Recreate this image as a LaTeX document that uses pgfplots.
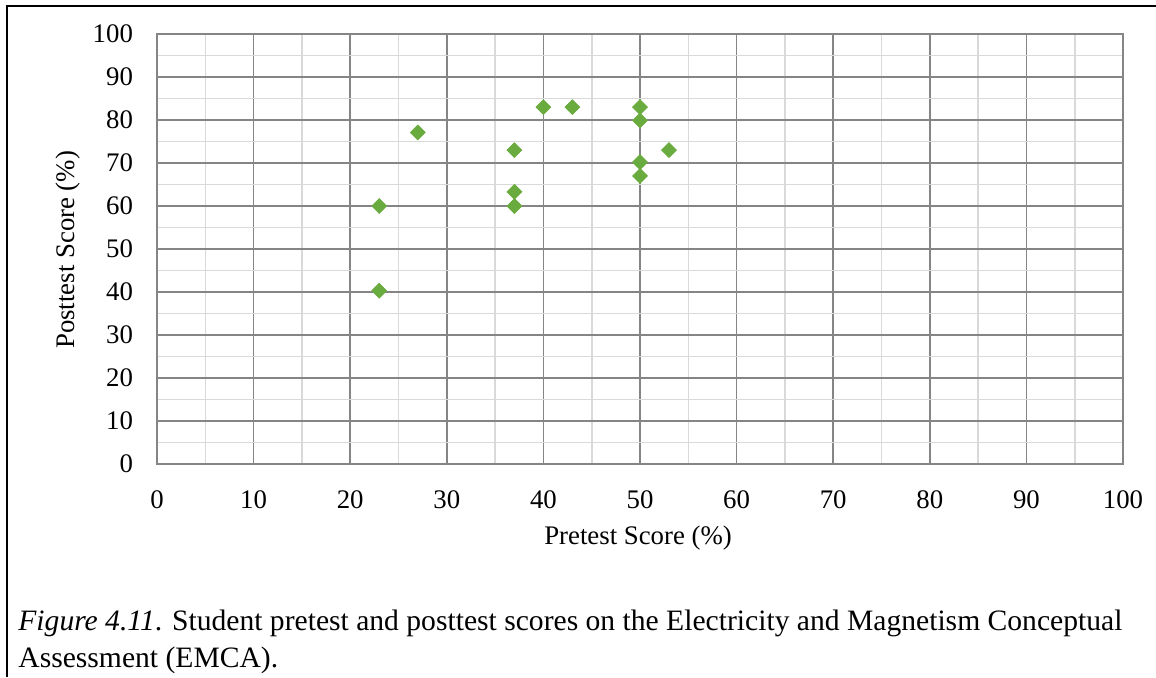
\documentclass[border=0pt]{standalone}
\usepackage{pgfplots}
\pgfplotsset{compat=1.18}
\usepackage{fontspec}
\setmainfont{Liberation Serif}
\definecolor{mkgreen}{HTML}{6AAB3F}
\definecolor{majgrid}{HTML}{858585}
\definecolor{mingrid}{HTML}{D9D9D9}
\begin{document}
\begin{tikzpicture}
\useasboundingbox (0,0) rectangle (578pt,-338.5pt);
\draw[line width=1pt,black] (3.5pt,-338.5pt) -- (3.5pt,-3pt) -- (578pt,-3pt);
\begin{axis}[
  at={(78.5pt,-232pt)}, anchor=south west,
  scale only axis, width=483pt, height=215pt,
  xmin=0, xmax=100, ymin=0, ymax=100,
  xtick={0,10,...,100}, ytick={0,10,...,100},
  minor tick num=1,
  grid=both,
  major grid style={majgrid, line width=0.8pt},
  minor grid style={mingrid, line width=0.8pt},
  axis line style={majgrid, line width=0.9pt},
  major tick length=0pt, minor tick length=0pt,
  tick label style={font=\fontsize{13.4}{15}\selectfont},
  /pgf/number format/assume math mode=true,
  xticklabel style={yshift=-10pt},
  yticklabel style={xshift=-8.5pt},
  xlabel={Pretest Score (\%)},
  ylabel={Posttest Score (\%)},
  every axis x label/.style={at={(axis description cs:0.498,-0.172)}, anchor=center, font=\fontsize{13.4}{15}\selectfont},
  every axis y label/.style={at={(axis description cs:-0.092,0.498)}, anchor=center, rotate=90, font=\fontsize{13.4}{15}\selectfont},
  clip=false,
]
\addplot[only marks, mark=square*, mark size=2.6pt, mark options={rotate=45, fill=mkgreen, draw=mkgreen}]
coordinates {
(23,60) (23,40.3) (27,77.1) (37,73) (37,63.3) (37,60)
(40,83) (43,83) (50,83) (50,79.9) (50,70.2) (50,67) (53,73)
};
\end{axis}
\node[anchor=base west, font=\fontsize{14.8}{17}\selectfont, inner sep=0pt] at (9pt,-315pt) {\textit{Figure 4.11}. Student pretest and posttest scores on the Electricity and Magnetism Conceptual};
\node[anchor=base west, font=\fontsize{14.8}{17}\selectfont, inner sep=0pt] at (9pt,-333.5pt) {Assessment (EMCA).};
\end{tikzpicture}
\end{document}
